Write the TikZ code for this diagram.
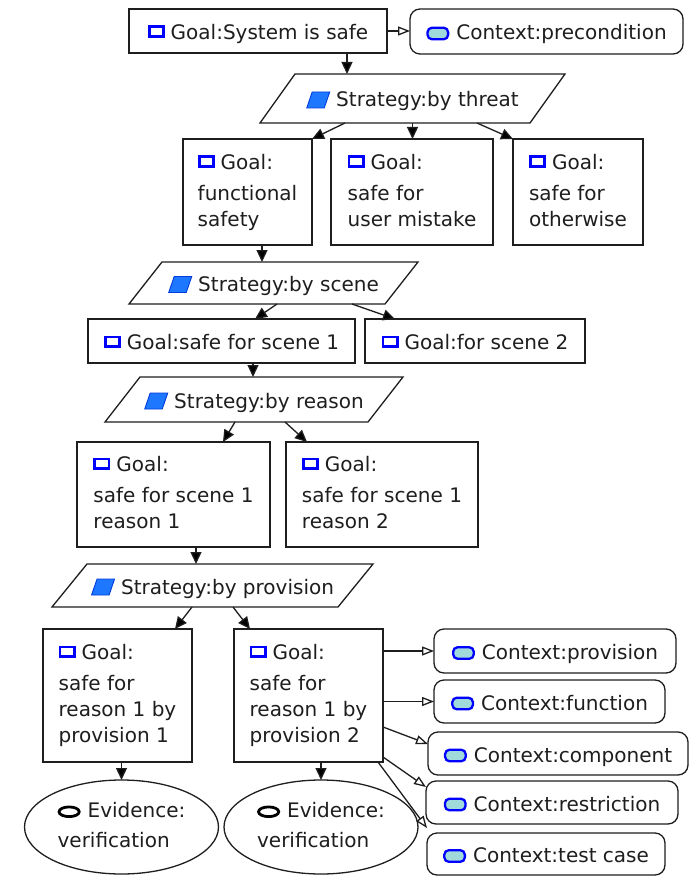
\documentclass[tikz,border=0pt]{standalone}
\usepackage{fontspec}
\setmainfont{DejaVu Sans}
\usetikzlibrary{arrows.meta,shapes.geometric,calc}

\definecolor{ink}{RGB}{30,30,30}
\definecolor{iconblue}{RGB}{0,0,255}
\definecolor{stratfill}{RGB}{30,120,255}
\definecolor{stratedge}{RGB}{0,60,220}
\definecolor{ctxfill}{RGB}{160,218,218}

% small glyphs in front of each label
\newcommand\goalicon{\tikz[baseline=0pt]{\useasboundingbox (0pt,0pt) rectangle (17pt,14pt);
  \filldraw[fill=white,draw=iconblue,line width=2.8pt,sharp corners] (1.4pt,2.9pt) rectangle (15.6pt,12.6pt);}\hspace{6pt}}
\newcommand\strategyicon{\tikz[baseline=0pt]{\useasboundingbox (0pt,-1.5pt) rectangle (24pt,15.5pt);
  \filldraw[fill=stratfill,draw=stratedge,line width=0.9pt,sharp corners] (0.5pt,-1pt) -- (18pt,-1pt) -- (23.5pt,15pt) -- (6pt,15pt) -- cycle;}\hspace{6pt}}
\newcommand\contexticon{\tikz[baseline=0pt]{\useasboundingbox (0pt,-0.5pt) rectangle (23pt,13.5pt);
  \filldraw[fill=ctxfill,draw=iconblue,line width=2.3pt,rounded corners=4.5pt] (1.2pt,0.7pt) rectangle (21.8pt,12.3pt);}\hspace{7pt}}
\newcommand\evidenceicon{\tikz[baseline=0pt]{\useasboundingbox (0pt,-0.5pt) rectangle (23pt,12pt);
  \draw[black,line width=2.8pt] (11.5pt,5.75pt) ellipse [x radius=10.1pt,y radius=4.85pt];}\hspace{7pt}}

% outline of a strategy parallelogram around an invisible node
\newcommand\stratframe[2]{\draw[ink,line width=1.3pt,line join=miter]
  ([xshift=#2]#1.north west) -- ([xshift=#2]#1.north east) --
  ([xshift=-#2]#1.south east) -- ([xshift=-#2]#1.south west) -- cycle;}

\begin{document}
\begin{tikzpicture}[x=1pt,y=-1pt,
  base/.style={inner sep=0pt,outer sep=0pt,font=\fontsize{20}{26}\selectfont,text=ink},
  oneline/.style={text height=17pt,text depth=0pt},
  goalbox/.style={base,rectangle,draw=ink,line width=1.3pt},
  ctxbox/.style={base,oneline,rectangle,draw=ink,line width=1.3pt,rounded corners=10pt},
  stratnode/.style={base,oneline,rectangle},
  evid/.style={base,ellipse,draw=ink,line width=1.3pt,minimum width=194pt,minimum height=94pt,align=left},
  link/.style={draw=ink,line width=1.3pt,-{Triangle[length=12pt,width=11pt]}},
  ctxlink/.style={draw=ink,line width=1.3pt,-{Triangle[open,length=12pt,width=9pt,fill=white]}}]

\fill[white] (0,0) rectangle (695,877);
\useasboundingbox (0,0) rectangle (695,877);

% top goal and its context
\node[goalbox,oneline,minimum width=258pt,minimum height=44pt] (g0) at (258,31) {\goalicon Goal:System is safe};
\node[ctxbox,minimum width=273pt,minimum height=45pt] (c0) at (546.5,31.5) {\contexticon Context:precondition};

% strategy by threat
\node[stratnode,minimum width=270pt,minimum height=49pt] (s1) at (412.5,98.5) {\strategyicon Strategy:by threat};
\stratframe{s1}{17.5pt}

\node[goalbox,align=left,minimum width=129pt,minimum height=106pt] (g1) at (247.5,192)
  {\goalicon Goal:\\[5pt]functional\\safety\vphantom{y}};
\node[goalbox,align=left,minimum width=162pt,minimum height=106pt] (g2) at (412,192)
  {\goalicon Goal:\\[5pt]safe for\\user mistake\vphantom{y}};
\node[goalbox,align=left,minimum width=130pt,minimum height=106pt] (g3) at (578,192)
  {\goalicon Goal:\\[5pt]safe for\\otherwise\vphantom{y}};

% strategy by scene
\node[stratnode,minimum width=256pt,minimum height=42pt] (s2) at (273.5,283) {\strategyicon Strategy:by scene};
\stratframe{s2}{16.5pt}

\node[goalbox,oneline,minimum width=267pt,minimum height=44pt] (g4) at (221.5,341) {\goalicon Goal:safe for scene 1};
\node[goalbox,oneline,minimum width=220pt,minimum height=44pt] (g5) at (475,341) {\goalicon Goal:for scene 2};

% strategy by reason
\node[stratnode,minimum width=263pt,minimum height=45pt] (s3) at (254,399.5) {\strategyicon Strategy:by reason};
\stratframe{s3}{17.5pt}

\node[goalbox,align=left,minimum width=193pt,minimum height=105pt] (g6) at (173.5,494.5)
  {\goalicon Goal:\\[5pt]safe for scene 1\\reason 1\vphantom{y}};
\node[goalbox,align=left,minimum width=192pt,minimum height=105pt] (g7) at (382,494.5)
  {\goalicon Goal:\\[5pt]safe for scene 1\\reason 2\vphantom{y}};

% strategy by provision
\node[stratnode,minimum width=286pt,minimum height=43pt] (s4) at (212.5,585.5) {\strategyicon Strategy:by provision};
\stratframe{s4}{17.5pt}

\node[goalbox,align=left,minimum width=149pt,minimum height=133pt] (g8) at (117.5,695.5)
  {\goalicon Goal:\\[5pt]safe for\\reason 1 by\\provision 1};
\node[goalbox,align=left,minimum width=149pt,minimum height=133pt] (g9) at (308.5,695.5)
  {\goalicon Goal:\\[5pt]safe for\\reason 1 by\\provision 2};

% evidence
\node[evid] (e1) at (121.5,827) {\evidenceicon Evidence:\\[4pt]verification\vphantom{y}};
\node[evid] (e2) at (321,827) {\evidenceicon Evidence:\\[4pt]verification\vphantom{y}};

% contexts of the second provision goal
\node[ctxbox,minimum width=242pt,minimum height=44pt] (c1) at (555,651) {\contexticon Context:provision};
\node[ctxbox,minimum width=231pt,minimum height=43pt] (c2) at (549.5,701.5) {\contexticon Context:function};
\node[ctxbox,minimum width=260pt,minimum height=43pt] (c3) at (558,753.5) {\contexticon Context:component};
\node[ctxbox,minimum width=252pt,minimum height=43pt] (c4) at (552,802.5) {\contexticon Context:restriction};
\node[ctxbox,minimum width=238pt,minimum height=42pt] (c5) at (546,854) {\contexticon Context:test case};

% support links
\draw[link] ([xshift=89pt]g0.south) -- ([xshift=-65.5pt]s1.north);
\draw[link] ([xshift=-67.5pt]s1.south) -- (g1.north east);
\draw[link] (s1.south) -- (s1.south |- g2.north);
\draw[link] ([xshift=64.5pt]s1.south) -- (g3.north west);
\draw[link] ([xshift=14.5pt]g1.south) -- ([xshift=-11.5pt]s2.north);
\draw[link] ([xshift=3.5pt]s2.south) -- ([xshift=33.5pt]g4.north);
\draw[link] ([xshift=78.5pt]s2.south) -- ([xshift=-80pt]g5.north);
\draw[link] ([xshift=31.5pt]g4.south) -- ([xshift=-1pt]s3.north);
\draw[link] ([xshift=-19pt]s3.south) -- ([xshift=49.5pt]g6.north);
\draw[link] ([xshift=31pt]s3.south) -- ([xshift=-75pt]g7.north);
\draw[link] ([xshift=22.5pt]g6.south) -- ([xshift=-16.5pt]s4.north);
\draw[link] ([xshift=-20.5pt]s4.south) -- ([xshift=57.5pt]g8.north);
\draw[link] ([xshift=20.5pt]s4.south) -- ([xshift=-58.5pt]g9.north);
\draw[link] (g8.south -| e1.north) -- (e1.north);
\draw[link] (g9.south -| e2.north) -- (e2.north);

% context links
\draw[ctxlink] (g0.east) -- (g0.east -| c0.west);
\draw[ctxlink] (g9.east |- c1.west) -- (c1.west);
\draw[ctxlink] (g9.east |- c2.west) -- (c2.west);
\draw[ctxlink] ([yshift=-31.5pt]g9.east) -- ([yshift=9.5pt]c3.west);
\draw[ctxlink] ([yshift=-61.5pt]g9.east) -- ([yshift=15.5pt]c4.west);
\draw[ctxlink] ([xshift=-5pt]g9.south east) -- ([yshift=26pt]c5.west);
\end{tikzpicture}
\end{document}
